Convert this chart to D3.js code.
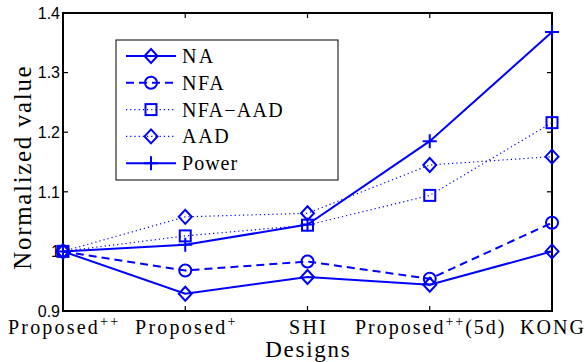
<!doctype html>
<html>
<head>
<meta charset="utf-8">
<script src="https://d3js.org/d3.v7.min.js"></script>
<style>
  body { margin: 0; background: #fff; }
  svg { display: block; }
</style>
</head>
<body>
<div id="chart"></div>
<script>
// categories and series values
var designs = ["Proposed", "Proposed", "SHI", "Proposed", "KONG"];
var designSup = ["++", "+", "", "++", ""];
var designTail = ["", "", "", "(5d)", ""];
var seriesNames = ["NA", "NFA", "NFA\u2212AAD", "AAD", "Power"];
var naVals = [1.0, 0.929, 0.957, 0.944, 1.0];
var nfaVals = [1.0, 0.968, 0.983, 0.954, 1.048];
var nfaAadVals = [1.0, 1.026, 1.044, 1.094, 1.216];
var aadVals = [1.0, 1.058, 1.064, 1.145, 1.159];
var powerVals = [1.0, 1.011, 1.045, 1.185, 1.368];
var yTicks = [0.9, 1, 1.1, 1.2, 1.3, 1.4];

(function() {
var W = 585, H = 362;
var mLeft = 63, mRight = 552, mTop = 13, mBottom = 311;
var blue = "#0000ff";
var serif = "Liberation Serif";
var sans = "Liberation Sans";
// how much wider the original (Computer Modern) labels are than Times
var labelStretch = [1.22, 1.22, 1.15, 1.21, 1.11];

var svg = d3.select("#chart").append("svg")
  .attr("width", W).attr("height", H);

var x = d3.scaleLinear().domain([0, 4]).range([mLeft, mRight]);
var y = d3.scaleLinear().domain([0.9, 1.4]).range([mBottom, mTop]);

function stretch(sel, factor) {
  sel.each(function() {
    var len = this.getComputedTextLength();
    d3.select(this).attr("textLength", len * factor).attr("lengthAdjust", "spacing");
  });
}

var series = [
  {name: seriesNames[0], vals: naVals, dash: null, width: 2, marker: "diamond"},
  {name: seriesNames[1], vals: nfaVals, dash: "8,5", width: 2, marker: "circle"},
  {name: seriesNames[2], vals: nfaAadVals, dash: "1.2,3", width: 1.2, marker: "square"},
  {name: seriesNames[3], vals: aadVals, dash: "1.2,3", width: 1.2, marker: "diamond"},
  {name: seriesNames[4], vals: powerVals, dash: null, width: 2, marker: "plus"}
];

function drawMarker(g, type, cx, cy) {
  var m;
  if (type === "diamond") {
    m = g.append("path").attr("d", "M" + cx + "," + (cy - 7) + "L" + (cx + 6.5) + "," + cy +
      "L" + cx + "," + (cy + 7) + "L" + (cx - 6.5) + "," + cy + "Z");
  } else if (type === "circle") {
    m = g.append("circle").attr("cx", cx).attr("cy", cy).attr("r", 6);
  } else if (type === "square") {
    m = g.append("rect").attr("x", cx - 5.5).attr("y", cy - 5.5).attr("width", 11).attr("height", 11);
  } else {
    m = g.append("path").attr("d", "M" + (cx - 7) + "," + cy + "H" + (cx + 7) + "M" + cx + "," + (cy - 7) + "V" + (cy + 7));
  }
  m.attr("fill", "none").attr("stroke", blue).attr("stroke-width", 2);
}

// axes box and ticks
var axG = svg.append("g");
axG.append("rect").attr("x", mLeft).attr("y", mTop)
  .attr("width", mRight - mLeft).attr("height", mBottom - mTop)
  .attr("fill", "none").attr("stroke", "#000").attr("stroke-width", 2);

d3.range(designs.length).forEach(function(i) {
  axG.append("line").attr("x1", x(i)).attr("x2", x(i)).attr("y1", mBottom).attr("y2", mBottom - 5)
    .attr("stroke", "#000").attr("stroke-width", 1.2);
  axG.append("line").attr("x1", x(i)).attr("x2", x(i)).attr("y1", mTop).attr("y2", mTop + 5)
    .attr("stroke", "#000").attr("stroke-width", 1.2);
});
yTicks.forEach(function(t) {
  axG.append("line").attr("x1", mLeft).attr("x2", mLeft + 5).attr("y1", y(t)).attr("y2", y(t))
    .attr("stroke", "#000").attr("stroke-width", 1.2);
  axG.append("line").attr("x1", mRight).attr("x2", mRight - 5).attr("y1", y(t)).attr("y2", y(t))
    .attr("stroke", "#000").attr("stroke-width", 1.2);
  axG.append("text").attr("x", mLeft - 3).attr("y", y(t)).attr("dy", "0.36em")
    .attr("text-anchor", "end").attr("font-family", sans).attr("font-size", 16)
    .text(t === 1 ? "1" : d3.format(".1f")(t));
});

// x tick labels
designs.forEach(function(d, i) {
  var t = svg.append("text").attr("x", x(i)).attr("y", 334)
    .attr("text-anchor", "middle").attr("font-family", serif).attr("font-size", 20);
  t.append("tspan").text(d);
  if (designSup[i]) {
    t.append("tspan").attr("dy", -8).attr("font-size", 14).text(designSup[i]);
  }
  if (designTail[i]) {
    t.append("tspan").attr("dy", 8).attr("font-size", 20).text(designTail[i]);
  }
  stretch(t, labelStretch[i]);
});

// axis labels
stretch(svg.append("text").attr("x", x(2)).attr("y", 357).attr("text-anchor", "middle")
  .attr("font-family", serif).attr("font-size", 23)
  .text("Designs"), 1.14);
stretch(svg.append("text").attr("transform", "translate(31,168) rotate(-90)")
  .attr("text-anchor", "middle")
  .attr("font-family", serif).attr("font-size", 25)
  .text("Normalized value"), 1.14);

// lines and markers
var line = d3.line().x(function(d, i) { return x(i); }).y(function(d) { return y(d); });
var plotG = svg.append("g");
series.forEach(function(s) {
  plotG.append("path").datum(s.vals).attr("d", line)
    .attr("fill", "none").attr("stroke", blue).attr("stroke-width", s.width)
    .attr("stroke-dasharray", s.dash);
});
series.forEach(function(s) {
  s.vals.forEach(function(v, i) { drawMarker(plotG, s.marker, x(i), y(v)); });
});

// legend
var lg = svg.append("g");
lg.append("rect").attr("x", 116).attr("y", 40).attr("width", 222).attr("height", 140)
  .attr("fill", "#fff").attr("stroke", "#000").attr("stroke-width", 1);
series.forEach(function(s, i) {
  var ly = 56 + i * 26.8;
  lg.append("line").attr("x1", 126).attr("x2", 176).attr("y1", ly).attr("y2", ly)
    .attr("stroke", blue).attr("stroke-width", s.width).attr("stroke-dasharray", s.dash);
  drawMarker(lg, s.marker, 151, ly);
  stretch(lg.append("text").attr("x", 182).attr("y", ly).attr("dy", "0.35em")
    .attr("font-family", serif).attr("font-size", 20)
    .text(s.name), 1.08);
});
})();
</script>
</body>
</html>
